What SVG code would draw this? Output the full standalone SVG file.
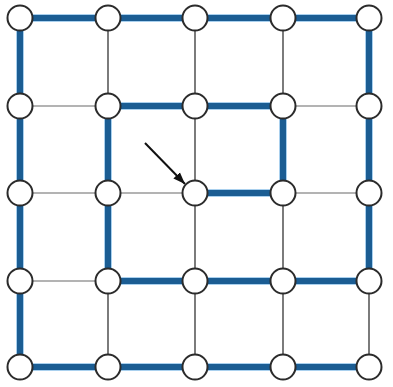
<svg xmlns="http://www.w3.org/2000/svg" width="393" height="387" viewBox="0 0 393 387">
<defs>
<style>
.halo{stroke:#a9d0ee;stroke-width:8;stroke-linecap:butt;fill:none}
.thick{stroke:#1b5d93;stroke-width:6;stroke-linecap:butt;fill:none}
.th{stroke:#9a9a9a;stroke-width:1.5;fill:none}
.tv{stroke:#444;stroke-width:1.4;fill:none}
.node{fill:#fff;stroke:#2b2b2b;stroke-width:2}
</style>
<marker id="ah" markerWidth="13" markerHeight="10" refX="12" refY="5" orient="auto" markerUnits="userSpaceOnUse">
<path d="M0,0.5 L12,5 L0,9.5 Z" fill="#111"/>
</marker>
</defs>
<g id="connectors">
<g id="thin">
<line class="th" x1="20" y1="106" x2="108" y2="106"/>
<line class="th" x1="283" y1="106" x2="369" y2="106"/>
<line class="th" x1="20" y1="193" x2="108" y2="193"/>
<line class="th" x1="108" y1="193" x2="195" y2="193"/>
<line class="th" x1="283" y1="193" x2="369" y2="193"/>
<line class="th" x1="20" y1="281" x2="108" y2="281"/>
<line class="tv" x1="108" y1="18" x2="108" y2="106"/>
<line class="tv" x1="108" y1="281" x2="108" y2="367"/>
<line class="tv" x1="195" y1="18" x2="195" y2="106"/>
<line class="tv" x1="195" y1="106" x2="195" y2="193"/>
<line class="tv" x1="195" y1="193" x2="195" y2="281"/>
<line class="tv" x1="195" y1="281" x2="195" y2="367"/>
<line class="tv" x1="283" y1="18" x2="283" y2="106"/>
<line class="tv" x1="283" y1="193" x2="283" y2="281"/>
<line class="tv" x1="283" y1="281" x2="283" y2="367"/>
<line class="tv" x1="369" y1="281" x2="369" y2="367"/>
</g>
<g id="paths-halo">
<path class="halo" d="M20,18 H369 V281 M20,18 V367 H369 M108,106 H283 V193 H195 M108,106 V281 H369"/>
</g>
<g id="paths">
<path class="thick" d="M20,18 H369 V281 M20,18 V367 H369 M108,106 H283 V193 H195 M108,106 V281 H369"/>
</g>
<line id="arrow" x1="145" y1="143" x2="185" y2="184" stroke="#111" stroke-width="2" marker-end="url(#ah)"/>
</g>
<g id="n00"><circle class="node" cx="20" cy="18" r="12.5"/></g>
<g id="n01"><circle class="node" cx="108" cy="18" r="12.5"/></g>
<g id="n02"><circle class="node" cx="195" cy="18" r="12.5"/></g>
<g id="n03"><circle class="node" cx="283" cy="18" r="12.5"/></g>
<g id="n04"><circle class="node" cx="369" cy="18" r="12.5"/></g>
<g id="n10"><circle class="node" cx="20" cy="106" r="12.5"/></g>
<g id="n11"><circle class="node" cx="108" cy="106" r="12.5"/></g>
<g id="n12"><circle class="node" cx="195" cy="106" r="12.5"/></g>
<g id="n13"><circle class="node" cx="283" cy="106" r="12.5"/></g>
<g id="n14"><circle class="node" cx="369" cy="106" r="12.5"/></g>
<g id="n20"><circle class="node" cx="20" cy="193" r="12.5"/></g>
<g id="n21"><circle class="node" cx="108" cy="193" r="12.5"/></g>
<g id="n22"><circle class="node" cx="195" cy="193" r="12.5"/></g>
<g id="n23"><circle class="node" cx="283" cy="193" r="12.5"/></g>
<g id="n24"><circle class="node" cx="369" cy="193" r="12.5"/></g>
<g id="n30"><circle class="node" cx="20" cy="281" r="12.5"/></g>
<g id="n31"><circle class="node" cx="108" cy="281" r="12.5"/></g>
<g id="n32"><circle class="node" cx="195" cy="281" r="12.5"/></g>
<g id="n33"><circle class="node" cx="283" cy="281" r="12.5"/></g>
<g id="n34"><circle class="node" cx="369" cy="281" r="12.5"/></g>
<g id="n40"><circle class="node" cx="20" cy="367" r="12.5"/></g>
<g id="n41"><circle class="node" cx="108" cy="367" r="12.5"/></g>
<g id="n42"><circle class="node" cx="195" cy="367" r="12.5"/></g>
<g id="n43"><circle class="node" cx="283" cy="367" r="12.5"/></g>
<g id="n44"><circle class="node" cx="369" cy="367" r="12.5"/></g>
</svg>
